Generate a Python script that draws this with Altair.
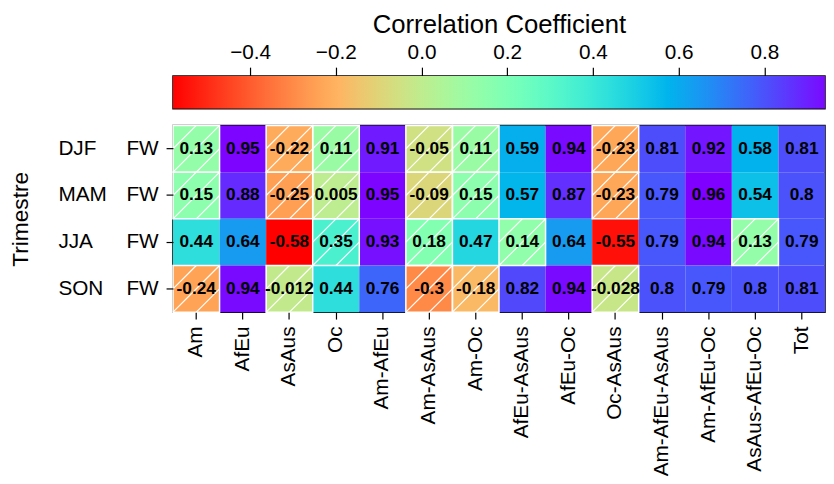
import altair as alt
import numpy as np
import pandas as pd

# ---------------- data ----------------
regions = ["Am", "AfEu", "AsAus", "Oc", "Am-AfEu", "Am-AsAus", "Am-Oc",
           "AfEu-AsAus", "AfEu-Oc", "Oc-AsAus", "Am-AfEu-AsAus",
           "Am-AfEu-Oc", "AsAus-AfEu-Oc", "Tot"]
seasons = ["DJF", "MAM", "JJA", "SON"]

djf = [0.13, 0.95, -0.22, 0.11, 0.91, -0.05, 0.11, 0.59, 0.94, -0.23, 0.81, 0.92, 0.58, 0.81]
mam = [0.15, 0.88, -0.25, 0.005, 0.95, -0.09, 0.15, 0.57, 0.87, -0.23, 0.79, 0.96, 0.54, 0.8]
jja = [0.44, 0.64, -0.58, 0.35, 0.93, 0.18, 0.47, 0.14, 0.64, -0.55, 0.79, 0.94, 0.13, 0.79]
son = [-0.24, 0.94, -0.012, 0.44, 0.76, -0.3, -0.18, 0.82, 0.94, -0.028, 0.8, 0.79, 0.8, 0.81]

# 1 = not significant (hatched cell)
djf_ns = [1, 0, 1, 1, 0, 1, 1, 0, 0, 1, 0, 0, 0, 0]
mam_ns = [1, 0, 1, 1, 0, 1, 1, 0, 0, 1, 0, 0, 0, 0]
jja_ns = [0, 0, 0, 1, 0, 1, 0, 1, 0, 0, 0, 0, 1, 0]
son_ns = [1, 0, 1, 0, 0, 1, 1, 0, 0, 1, 0, 0, 0, 0]

cb_ticks = [-0.4, -0.2, 0.0, 0.2, 0.4, 0.6, 0.8]

# ---------------- table ----------------
rows = []
for s, vals, ns in zip(seasons, [djf, mam, jja, son], [djf_ns, mam_ns, jja_ns, son_ns]):
    for r, v, n in zip(regions, vals, ns):
        rows.append({"season": s, "region": r, "value": v,
                     "label": f"{v:.2g}", "ns": n})
df = pd.DataFrame(rows)

vmin = float(df["value"].min())
vmax = float(df["value"].max())

# matplotlib 'rainbow_r' colormap
def rainbow_r(t):
    x = 1.0 - t
    r = min(1.0, abs(2 * x - 0.5))
    g = max(0.0, np.sin(np.pi * x))
    b = max(0.0, np.cos(np.pi * x / 2))
    return "#{:02x}{:02x}{:02x}".format(int(round(r * 255)), int(round(g * 255)), int(round(b * 255)))

N = 33
ts = np.linspace(0, 1, N)
cmap_colors = [rainbow_r(t) for t in ts]
cmap_domain = [float(vmin + t * (vmax - vmin)) for t in ts]

FONT = "Liberation Sans"
W, H = 660, 189
CB_W_FULL = 668  # colorbar drawn slightly wider than the grid, cut at the figure edge
cb_hi = vmin + (vmax - vmin) * W / CB_W_FULL

# ---------------- colorbar ----------------
cb_df = pd.DataFrame({"lo": [vmin], "hi": [vmax]})
colorbar = alt.Chart(cb_df).mark_rect(
    clip=True,
    fill=alt.Gradient(
        gradient="linear",
        stops=[alt.GradientStop(color=c, offset=float(t)) for c, t in zip(cmap_colors, ts)],
        x1=0, x2=1, y1=0, y2=0,
    ),
).encode(
    x=alt.X("lo:Q",
            scale=alt.Scale(domain=[vmin, cb_hi], nice=False, zero=False),
            axis=alt.Axis(orient="top", values=cb_ticks, format=".1f",
                          title="Correlation Coefficient", titleFontSize=26,
                          titlePadding=4, labelPadding=5, tickSize=9, grid=False)),
    x2=alt.X2("hi"),
).properties(width=W, height=33)

# ---------------- heatmap ----------------
xenc = alt.X("region:N", sort=regions,
             scale=alt.Scale(paddingInner=0, paddingOuter=0),
             axis=alt.Axis(title=None, labelAngle=-90, labelPadding=7, tickSize=7))
yenc = alt.Y("season:N", sort=seasons,
             scale=alt.Scale(paddingInner=0, paddingOuter=0),
             axis=alt.Axis(title="Trimestre", labelExpr="'FW'", labelPadding=8,
                           tickSize=7, titlePadding=95, titleFontSize=23))

base = alt.Chart(df)

cells = base.mark_rect().encode(
    x=xenc, y=yenc,
    color=alt.Color("value:Q",
                    scale=alt.Scale(domain=cmap_domain, range=cmap_colors, interpolate="rgb"),
                    legend=None),
)

hatched = base.transform_filter("datum.ns == 1")

def hatch_line(x0, y0, x1, y1):
    return hatched.mark_rule(color="white", strokeWidth=1.2).encode(
        x=alt.X("region:N", sort=regions, bandPosition=x0),
        x2=alt.X2("region", bandPosition=x1),
        y=alt.Y("season:N", sort=seasons, bandPosition=y0),
        y2=alt.Y2("season", bandPosition=y1),
    )

h1 = hatch_line(0.0, 1.0, 1.0, 0.0)
h2 = hatch_line(0.5, 1.0, 1.0, 0.5)
h3 = hatch_line(0.0, 0.5, 0.5, 0.0)

outline = hatched.mark_rect(fillOpacity=0, stroke="white", strokeWidth=1.5).encode(
    x=xenc, y=yenc)

labels = base.mark_text(font=FONT, fontSize=17.5, fontWeight="bold", color="black").encode(
    x=xenc, y=yenc, text="label:N")

season_df = pd.DataFrame({"season": seasons})
season_text = alt.Chart(season_df).mark_text(
    font=FONT, fontSize=21, align="left", color="black").encode(
    y=alt.Y("season:N", sort=seasons),
    x=alt.value(-116),
    text="season:N",
)

heat = alt.layer(cells, h1, h2, h3, outline, labels, season_text).properties(width=W, height=H)

chart = alt.vconcat(colorbar, heat, spacing=17, bounds="flush").properties(
    padding={"left": 0, "top": 0, "right": 0, "bottom": 0}
).configure_view(
    stroke="black", strokeWidth=1.5
).configure_axis(
    labelFont=FONT, labelFontSize=21, labelColor="black",
    titleFont=FONT, titleFontWeight="normal", titleColor="black",
    tickColor="black", tickWidth=1.2, domain=False,
)

chart.save("out.html", embed_options={"renderer": "svg", "actions": False})
